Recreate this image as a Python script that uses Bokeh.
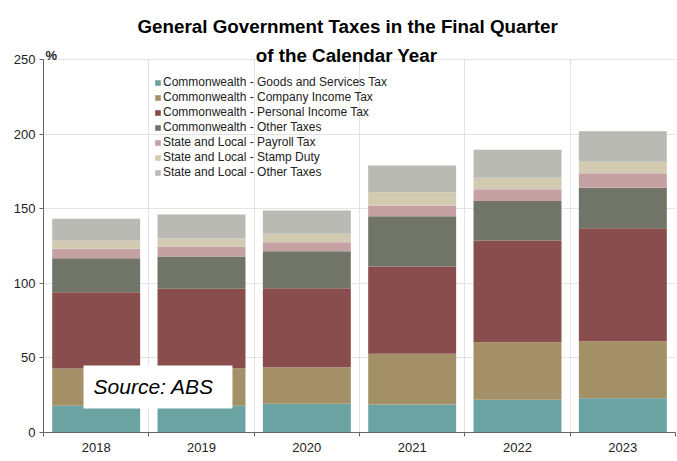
from bokeh.plotting import figure
from bokeh.models import (Range1d, Label, BoxAnnotation, FixedTicker, Title,
                          LinearAxis, CategoricalAxis, Grid)
from bokeh.embed import file_html
from bokeh.resources import INLINE

years = ["2018", "2019", "2020", "2021", "2022", "2023"]
gst = [18.0, 18.0, 19.2, 18.8, 21.9, 23.0]
company = [24.9, 25.0, 24.6, 33.9, 38.6, 38.2]
personal = [51.1, 53.3, 52.9, 58.6, 68.2, 75.7]
other_cw = [22.8, 21.7, 24.8, 33.7, 26.4, 27.1]
payroll = [6.3, 6.7, 6.0, 7.1, 8.0, 9.8]
stamp = [5.4, 5.3, 5.7, 9.0, 7.6, 7.6]
other_sl = [14.7, 16.1, 15.6, 17.9, 18.8, 20.5]
y_ticks = [0, 50, 100, 150, 200, 250]
Y_MAX = 250

series_keys = ["gst", "company", "personal", "other_cw", "payroll", "stamp", "other_sl"]
series_labels = [
    "Commonwealth - Goods and Services Tax",
    "Commonwealth - Company Income Tax",
    "Commonwealth - Personal Income Tax",
    "Commonwealth - Other Taxes",
    "State and Local - Payroll Tax",
    "State and Local - Stamp Duty",
    "State and Local - Other Taxes",
]
colors = ["#6ba3a2", "#a39067", "#884d4c", "#717567", "#c6a1a3", "#d3cab2", "#b8bab3"]

data = dict(years=years, gst=gst, company=company, personal=personal,
            other_cw=other_cw, payroll=payroll, stamp=stamp, other_sl=other_sl)

FONT = "Liberation Sans"
AXIS_COLOR = "#666666"

# frame extends a little above 250 so the unit label and second title line fit
p = figure(x_range=years, y_range=Range1d(0, 265.42), width=677, height=461,
           output_backend="svg", toolbar_location=None, x_axis_location=None,
           min_border_left=43, min_border_right=2, min_border_bottom=29, min_border_top=36)
p.title = None

p.add_layout(Title(text="General Government Taxes in the Final Quarter", align="left",
                   offset=94, standoff=0,
                   text_font=FONT, text_font_size="18.8px", text_font_style="bold",
                   text_color="#000000"), "above")

p.vbar_stack(series_keys, x="years", width=0.835, color=colors, source=data,
             legend_label=series_labels, line_color=None)

p.outline_line_color = None

# y axis
p.yaxis.ticker = FixedTicker(ticks=y_ticks)
p.yaxis.bounds = (0, Y_MAX)
p.yaxis.minor_tick_line_color = None
p.yaxis.major_tick_out = 4
p.yaxis.major_tick_in = 0
p.yaxis.major_label_standoff = 4
p.yaxis.axis_line_color = AXIS_COLOR
p.yaxis.major_tick_line_color = AXIS_COLOR
p.yaxis.major_label_text_font = FONT
p.yaxis.major_label_text_font_size = "13px"
p.yaxis.major_label_text_color = "#222222"

# x axis: tick marks at category boundaries, labels at centres
tick_axis = LinearAxis(ticker=FixedTicker(ticks=list(range(len(years) + 1))),
                       major_label_text_font_size="0px",
                       major_label_overrides={i: "" for i in range(len(years) + 1)},
                       major_label_standoff=0, major_tick_out=4, major_tick_in=0,
                       minor_tick_line_color=None, axis_line_color=AXIS_COLOR,
                       major_tick_line_color=AXIS_COLOR)
p.add_layout(tick_axis, "below")
cat_axis = CategoricalAxis(axis_line_color=None, major_tick_line_color=None,
                           major_label_standoff=0, major_label_text_font=FONT,
                           major_label_text_font_size="13px",
                           major_label_text_color="#222222")
p.add_layout(cat_axis, "below")

# grids
p.ygrid.grid_line_color = "#e3e3e3"
xgrids = [g for g in p.center if isinstance(g, Grid) and g.dimension == 0]
if xgrids:
    xg = xgrids[0]
else:
    xg = Grid(dimension=0)
    p.add_layout(xg)
xg.ticker = FixedTicker(ticks=list(range(len(years) + 1)))
xg.grid_line_color = "#e3e3e3"

# white mask over the strip above 250 (keeps grid lines inside the chart area)
p.add_layout(BoxAnnotation(bottom=Y_MAX + 0.6, fill_color="white", fill_alpha=1.0,
                           line_color=None))

# second title line and unit label
p.add_layout(Label(x=2.877, y=252.7, text="of the Calendar Year", text_align="center",
                   text_baseline="alphabetic", text_font=FONT, text_font_size="18.8px",
                   text_font_style="bold", text_color="#000000"))
p.add_layout(Label(x=0.019, y=252.7, text="%", text_baseline="alphabetic",
                   text_font=FONT, text_font_size="13px", text_font_style="bold",
                   text_color="#222222"))

# legend
lg = p.legend[0]
lg.location = (111, 253)
lg.label_text_font = FONT
lg.label_text_font_size = "12px"
lg.label_text_color = "#222222"
lg.glyph_width = 7
lg.glyph_height = 7
lg.label_standoff = 2
lg.label_height = 14
lg.spacing = 1
lg.padding = 0
lg.margin = 0
lg.border_line_color = None
lg.background_fill_alpha = 0

# source box
p.add_layout(BoxAnnotation(left=0.38, right=1.794, bottom=16.1, top=44.9,
                           fill_color="white", fill_alpha=1.0, line_color=None))
p.add_layout(Label(x=0.475, y=30.8, text="Source: ABS", text_baseline="middle",
                   text_font=FONT, text_font_size="21px", text_font_style="italic",
                   text_color="#000000"))

open("out.html", "w").write(file_html(p, INLINE))
